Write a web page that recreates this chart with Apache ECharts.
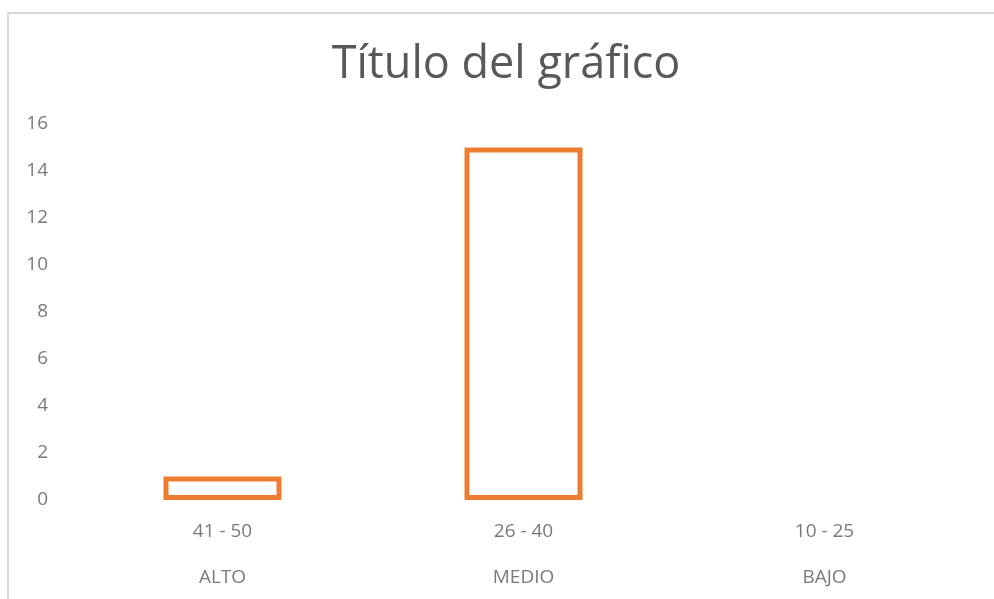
<!DOCTYPE html>
<html>
<head>
<meta charset="utf-8">
<script src="https://cdn.jsdelivr.net/npm/echarts@6/dist/echarts.min.js"></script>
<style>
  html, body { margin: 0; padding: 0; background: #fff; }
  #main { width: 994px; height: 599px; }
</style>
</head>
<body>
<div id="main"></div>
<script>
// datos
const rangeLabels = ['41 - 50', '26 - 40', '10 - 25'];
const levelLabels = ['ALTO', 'MEDIO', 'BAJO'];
const counts = [1, 15, 0];
const yTicks = { min: 0, max: 16, interval: 2 };

const chart = echarts.init(document.getElementById('main'));

const option = {
  animation: false,
  textStyle: { fontFamily: 'Open Sans' },
  title: {
    text: 'Título del gráfico',
    left: 501,
    textAlign: 'center',
    top: 38,
    textStyle: { fontSize: 45, fontWeight: 'normal', color: '#595959', fontFamily: 'Open Sans' }
  },
  // marco del area del grafico
  graphic: [{
    type: 'rect',
    shape: { x: 8, y: 13, width: 1000, height: 620 },
    style: { fill: 'none', stroke: '#d9d9d9', lineWidth: 2 },
    silent: true
  }],
  grid: { left: 72, right: 19, top: 124, bottom: 99, outerBoundsMode: 'none', containLabel: false },
  xAxis: {
    type: 'category',
    data: rangeLabels,
    axisLine: { show: false },
    axisTick: { show: false },
    axisLabel: {
      margin: 9,
      fontSize: 19,
      color: '#7a7a7a',
      lineHeight: 46,
      formatter: function (val, idx) {
        return val + '\n' + levelLabels[idx];
      }
    }
  },
  yAxis: {
    type: 'value',
    min: yTicks.min,
    max: yTicks.max,
    interval: yTicks.interval,
    axisLine: { show: false },
    axisTick: { show: false },
    splitLine: { show: false },
    axisLabel: { fontSize: 19, color: '#7a7a7a', margin: 24 }
  },
  series: [{
    type: 'bar',
    barWidth: 118,
    data: counts.map(function (v) {
      return v === 0 ? { value: v, itemStyle: { borderWidth: 0 } } : v;
    }),
    itemStyle: { color: '#ffffff', borderColor: '#ED7D31', borderWidth: 5 }
  }]
};

chart.setOption(option);
</script>
</body>
</html>
